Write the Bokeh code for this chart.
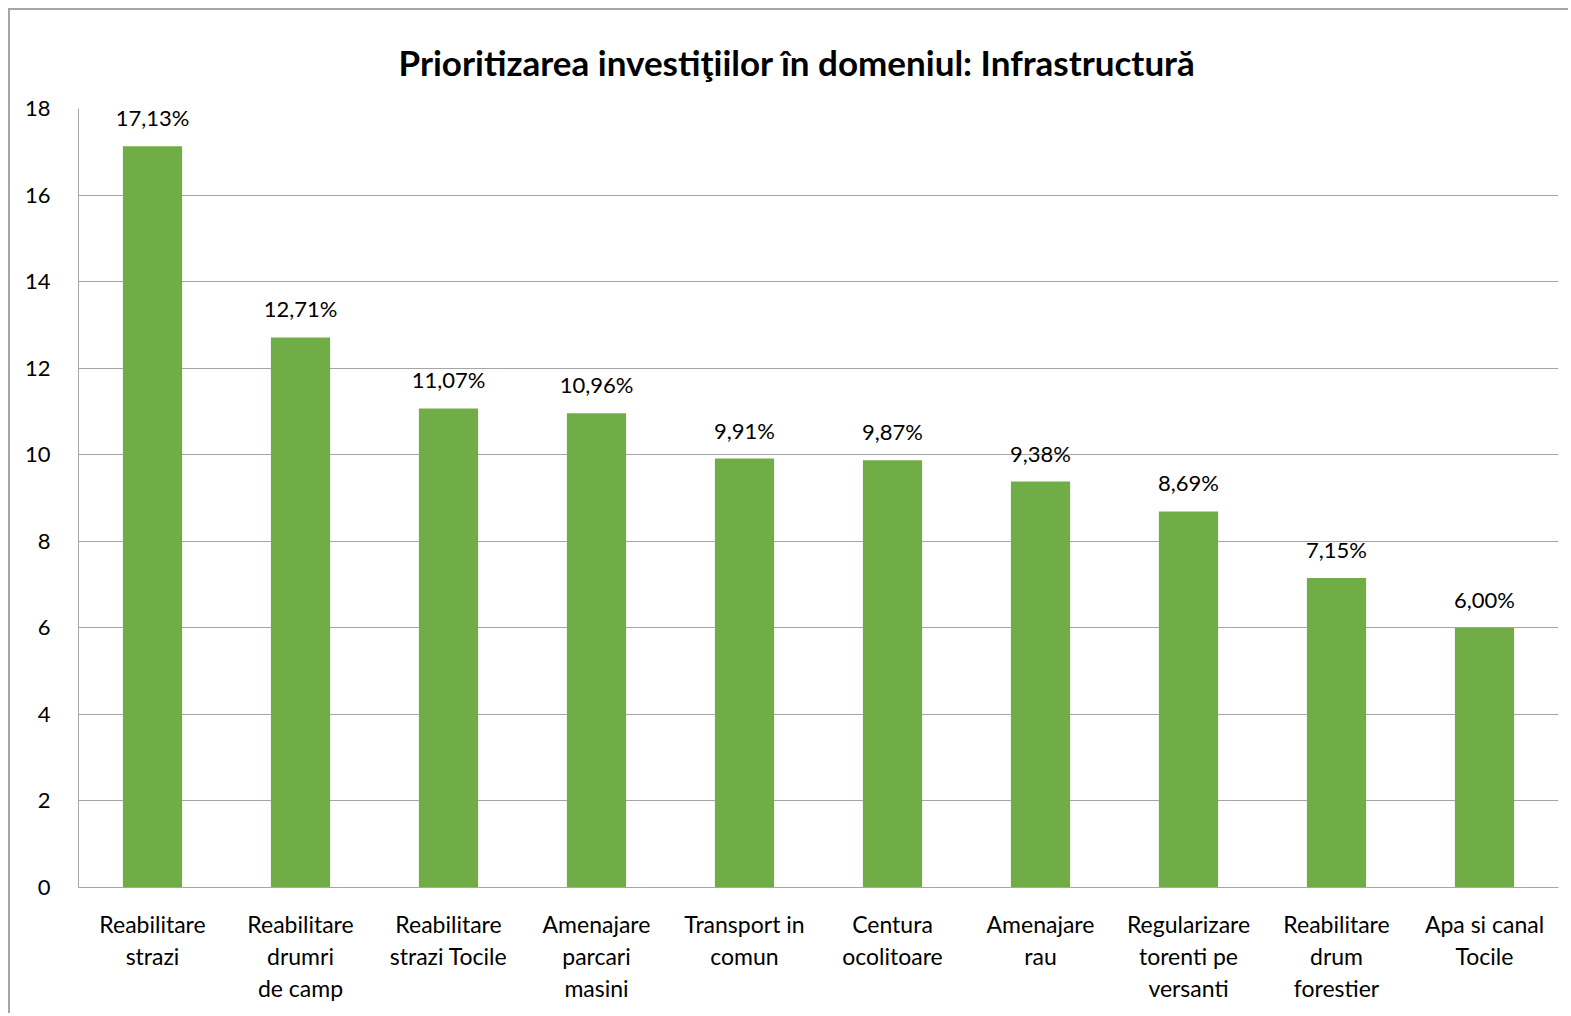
from bokeh.plotting import figure
from bokeh.models import ColumnDataSource, Range1d, FixedTicker
from bokeh.embed import file_html
from bokeh.resources import INLINE

categories = ["Reabilitare\nstrazi", "Reabilitare\ndrumri\nde camp", "Reabilitare\nstrazi Tocile",
              "Amenajare\nparcari\nmasini", "Transport in\ncomun", "Centura\nocolitoare",
              "Amenajare\nrau", "Regularizare\ntorenti pe\nversanti", "Reabilitare\ndrum\nforestier",
              "Apa si canal\nTocile"]
values = [17.13, 12.71, 11.07, 10.96, 9.91, 9.87, 9.38, 8.69, 7.15, 6.00]
labels = ["17,13%", "12,71%", "11,07%", "10,96%", "9,91%", "9,87%", "9,38%", "8,69%", "7,15%", "6,00%"]
y_ticks = [0, 2, 4, 6, 8, 10, 12, 14, 16, 18]
title_text = "Prioritizarea investiţiilor în domeniul: Infrastructură"

FONT = "Lato"
src = ColumnDataSource(dict(cat=categories, val=values, lab=labels))

p = figure(x_range=categories, y_range=Range1d(0, 18), width=1560, height=1005,
           output_backend="svg", toolbar_location=None,
           min_border_left=68, min_border_right=12, min_border_top=98, min_border_bottom=128)
p.title.text = title_text
p.title.align = "left"
p.title.offset = 320
p.title.standoff = 52
p.title.text_font = FONT
p.title.text_font_size = "35px"
p.title.text_font_style = "bold"
p.title.text_color = "black"
p.styles = {"margin-left": "8px", "margin-top": "8px",
            "border-left": "2px solid #a6a6a6", "border-top": "2px solid #a6a6a6"}

p.vbar(x="cat", top="val", width=0.4, source=src, color="#70AD47", line_color=None)
p.text(x="cat", y="val", text="lab", source=src, text_align="center", text_baseline="bottom",
       y_offset=-15, text_font={"value": FONT}, text_font_size={"value": "22px"}, text_color="black")

p.outline_line_color = None
p.xgrid.grid_line_color = None
p.ygrid.grid_line_color = "#a6a6a6"
p.ygrid.grid_line_width = 1
p.yaxis.ticker = FixedTicker(ticks=y_ticks)
for ax in (p.xaxis, p.yaxis):
    ax.axis_line_color = "#a6a6a6"
    ax.major_tick_line_color = None
    ax.minor_tick_line_color = None
    ax.major_label_text_font = FONT
    ax.major_label_text_color = "black"
p.yaxis.major_label_text_font_size = "22px"
p.xaxis.major_label_text_font_size = "23px"
p.yaxis.major_label_standoff = 22
p.xaxis.major_label_standoff = 16
p.xaxis.major_label_text_line_height = 1.15
p.x_range.range_padding = 0

open("out.html", "w").write(file_html(p, INLINE))
